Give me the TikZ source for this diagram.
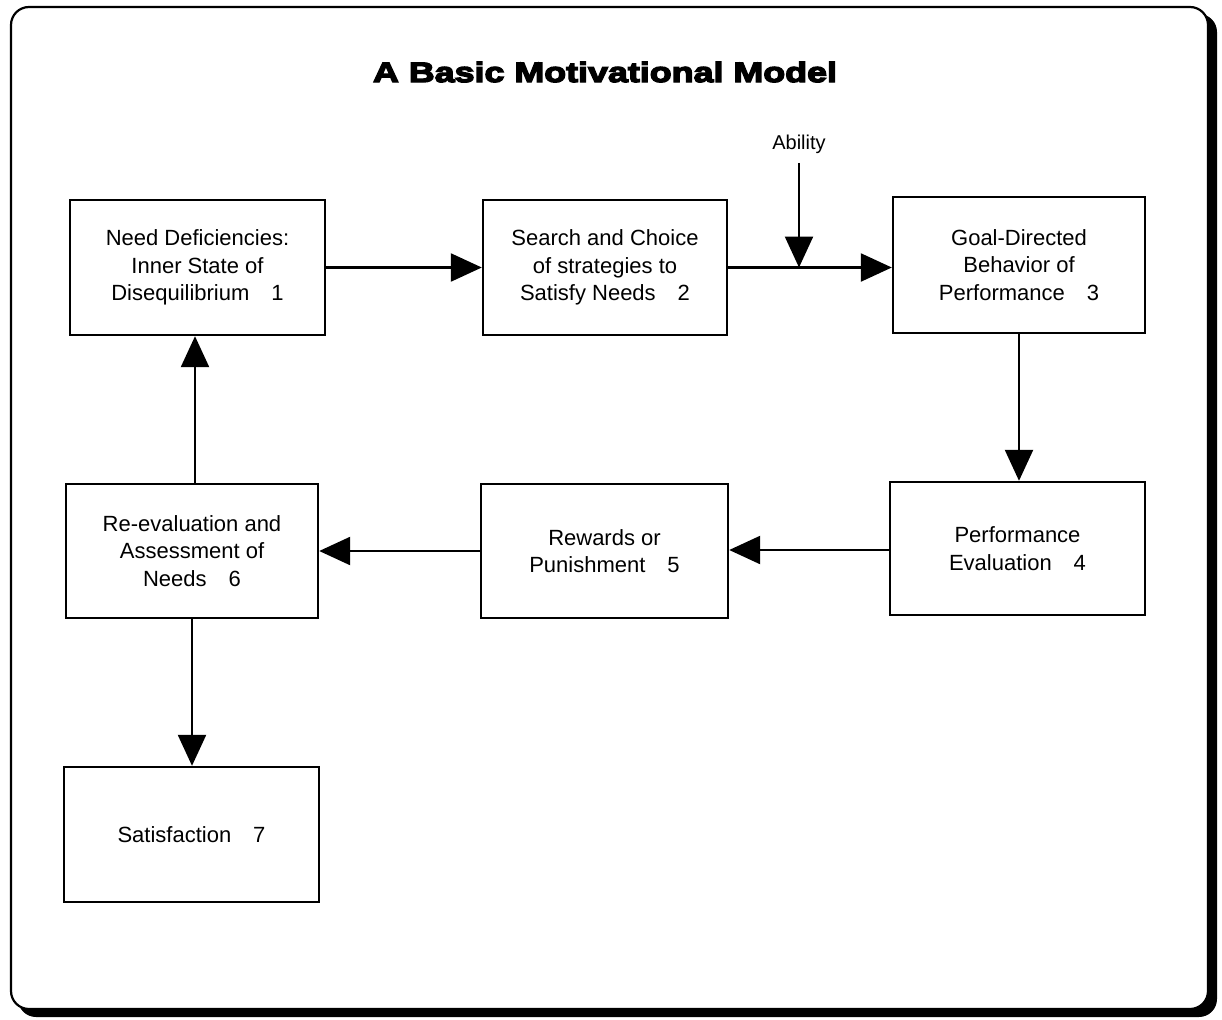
\documentclass[tikz,border=0pt]{standalone}
\usepackage{fontspec}
\setmainfont{Liberation Sans}
\newfontfamily\heavyfont[FakeBold=5,FakeStretch=1.28]{Liberation Sans Bold}
\usetikzlibrary{arrows.meta}
\begin{document}
\begin{tikzpicture}[x=1pt,y=-1pt,
  box/.style={draw, line width=2.4pt, rectangle, align=center, inner sep=0pt,
    font=\fontsize{22}{27.5}\selectfont},
  flow/.style={line width=2.4pt, -{Triangle[length=31pt,width=28pt]}},
  frameline/.style={line width=2.2pt, rounded corners=18pt}]
\useasboundingbox (0,0) rectangle (1222,1019);
% frame with drop shadow
\fill[rounded corners=18pt] (18,14) rectangle (1217,1017);
\draw[frameline, fill=white] (11,7) rectangle (1208,1009);
% title
\node (title) at (605,72) {\heavyfont\fontsize{28}{34}\selectfont A Basic Motivational Model};
% process boxes
\node[box, minimum width=255pt, minimum height=135pt] (n1) at (197.5,267.5)
  {Need Deficiencies:\\Inner State of\\Disequilibrium\quad 1};
\node[box, minimum width=244pt, minimum height=135pt] (n2) at (605,267.5)
  {Search and Choice\\of strategies to\\Satisfy Needs\quad 2};
\node[box, minimum width=252pt, minimum height=136pt] (n3) at (1019,265)
  {Goal-Directed\\Behavior of\\Performance\quad 3};
\node[box, minimum width=255pt, minimum height=133pt] (n4) at (1017.5,548.5)
  {Performance\\Evaluation\quad 4};
\node[box, minimum width=247pt, minimum height=134pt] (n5) at (604.5,551)
  {Rewards or\\Punishment\quad 5};
\node[box, minimum width=252pt, minimum height=134pt] (n6) at (192,551)
  {Re-evaluation and\\Assessment of\\Needs\quad 6};
\node[box, minimum width=255pt, minimum height=135pt] (n7) at (191.5,834.5)
  {Satisfaction\quad 7};
\node[font=\fontsize{20}{24}\selectfont] (ability) at (799,144) {Ability};
% connectors
\draw[flow] (n1.east) -- (n1.east -| n2.west);
\draw[flow] (n2.east) -- (n2.east -| n3.west);
\draw[flow, shorten <=6pt] (ability.south) -- (ability.south |- n2.east);
\draw[flow] (n3.south) -- (n3.south |- n4.north);
\draw[flow] ([yshift=-1.5pt]n4.west) -- ([yshift=-1.5pt]n4.west -| n5.east);
\draw[flow] (n5.west) -- (n5.west -| n6.east);
\draw[flow] ([xshift=3pt]n6.north) -- ([xshift=3pt]n6.north |- n1.south);
\draw[flow] (n6.south) -- (n6.south |- n7.north);
\end{tikzpicture}
\end{document}
